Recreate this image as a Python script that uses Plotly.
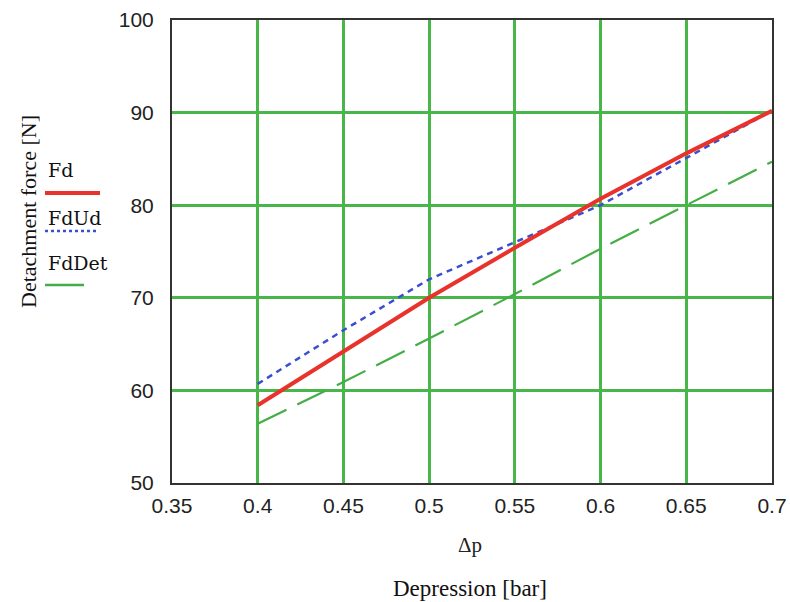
import plotly.graph_objects as go

# Data
dp = [0.40, 0.45, 0.50, 0.55, 0.60, 0.65, 0.70]
fd = [58.4, 64.2, 70.0, 75.4, 80.7, 85.6, 90.2]
fd_ud = [60.7, 66.5, 72.0, 76.0, 80.0, 85.1, 90.2]
fd_det = [56.4, 60.9, 65.6, 70.4, 75.3, 80.0, 84.7]

x_ticks = [0.35, 0.4, 0.45, 0.5, 0.55, 0.6, 0.65, 0.7]
x_tick_text = ["0.35", "0.4", "0.45", "0.5", "0.55", "0.6", "0.65", "0.7"]
y_ticks = [50, 60, 70, 80, 90, 100]

W, H = 790, 602
L, R, T, B = 172, 18, 20, 119
PW, PH = W - L - R, H - T - B


def px(xp):
    return (xp - L) / PW


def py(yp):
    return (H - B - yp) / PH


RED = "#e8322b"
BLUE = "#3a4fd0"
GREEN = "#45ad45"
GRID = "#49b649"

fig = go.Figure()
fig.add_trace(go.Scatter(x=dp, y=fd_det, mode="lines", name="FdDet",
                         line=dict(color=GREEN, width=2.2, dash="32px,12px")))
fig.add_trace(go.Scatter(x=dp, y=fd_ud, mode="lines", name="FdUd",
                         line=dict(color=BLUE, width=2.5, dash="6px,5px")))
fig.add_trace(go.Scatter(x=dp, y=fd, mode="lines", name="Fd",
                         line=dict(color=RED, width=4)))

tick_font = dict(family="Liberation Sans Narrow, Liberation Sans, sans-serif",
                 size=21, color="#222")

fig.update_layout(
    width=W, height=H,
    margin=dict(l=L, r=R, t=T, b=B, pad=0, autoexpand=False),
    paper_bgcolor="white", plot_bgcolor="white",
    showlegend=False,
    xaxis=dict(range=[0.35, 0.7], tickvals=x_ticks, ticktext=x_tick_text,
               showgrid=True, gridcolor=GRID, gridwidth=2.5,
               showline=True, linecolor="#333", linewidth=2, mirror=True,
               zeroline=False, ticks="", tickfont=tick_font,
               ticklabelstandoff=3, automargin=False),
    yaxis=dict(range=[50, 100], tickvals=y_ticks,
               showgrid=True, gridcolor=GRID, gridwidth=2.5,
               showline=True, linecolor="#333", linewidth=2, mirror=True,
               zeroline=False, ticks="", tickfont=tick_font,
               ticklabelstandoff=12, automargin=False),
)

serif = "Liberation Serif, Times New Roman, serif"
leg_font = dict(family="DejaVu Serif, serif", size=19, color="#111")

annotations = [
    dict(text="Detachment force [N]", x=px(28), y=py(212), textangle=-90,
         font=dict(family=serif, size=22, color="#111")),
    dict(text="Δp", x=px(470), y=py(545),
         font=dict(family=serif, size=21, color="#222")),
    dict(text="Depression [bar]", x=px(470), y=py(588),
         font=dict(family=serif, size=23, color="#111")),
    dict(text="Fd", x=px(46), y=py(170), xanchor="left", font=leg_font),
    dict(text="FdUd", x=px(46), y=py(218), xanchor="left", font=leg_font),
    dict(text="FdDet", x=px(46), y=py(263), xanchor="left", font=leg_font),
]
for a in annotations:
    a.update(xref="paper", yref="paper", showarrow=False)
    a.setdefault("xanchor", "center")
    a.setdefault("yanchor", "middle")
    fig.add_annotation(**a)

legend_lines = [
    (45, 100, 193, RED, 4, "solid"),
    (45, 97, 231, BLUE, 2.5, "dot"),
    (45, 84, 285, GREEN, 2.5, "solid"),
]
for x0, x1, yy, c, w, d in legend_lines:
    fig.add_shape(type="line", xref="paper", yref="paper",
                  x0=px(x0), x1=px(x1), y0=py(yy), y1=py(yy),
                  line=dict(color=c, width=w, dash=d))

fig.write_html("out.html")
